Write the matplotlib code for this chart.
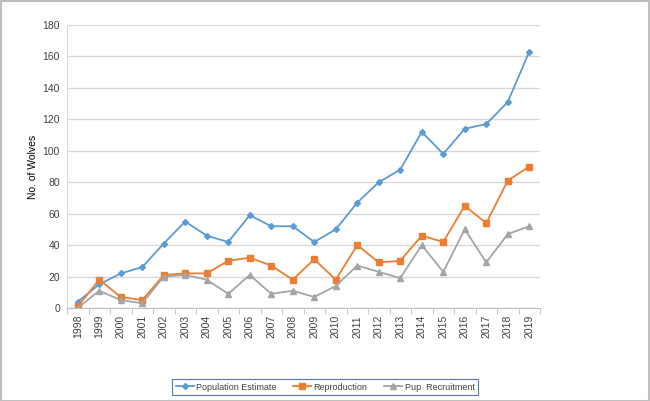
import matplotlib
matplotlib.use("Agg")
import matplotlib.pyplot as plt
from matplotlib.patches import Rectangle
import numpy as np

years = [str(y) for y in range(1998, 2020)]
population = [4, 15, 22, 26, 41, 55, 46, 42, 59, 52, 52, 42, 50, 67, 80, 88, 112, 98, 114, 117, 131, 163]
reproduction = [1, 18, 7, 5, 21, 22, 22, 30, 32, 27, 18, 31, 18, 40, 29, 30, 46, 42, 65, 54, 81, 90]
pups = [0, 11, 5, 3, 20, 21, 18, 9, 21, 9, 11, 7, 14, 27, 23, 19, 40, 23, 50, 29, 47, 52]
yticks = [0, 20, 40, 60, 80, 100, 120, 140, 160, 180]

plt.rcParams['font.family'] = ['Liberation Sans', 'DejaVu Sans']

fig = plt.figure(figsize=(6.5, 4.01), dpi=100)
ax = fig.add_axes([67/650, 1-308/401, (540-67)/650, (308-25)/401])

x = np.arange(len(years))
ax.plot(x, population, color='#5b9bd5', marker='D', markersize=3, linewidth=1.3, label='Population Estimate')
ax.plot(x, reproduction, color='#ed7d31', marker='s', markersize=4, linewidth=1.3, label='Reproduction')
ax.plot(x, pups, color='#a5a5a5', marker='^', markersize=4, linewidth=1.3, label='Pup  Recruitment')

ax.set_xlim(-0.5, len(years) - 0.5)
ax.set_ylim(0, 180)
ax.set_yticks(yticks)
ax.set_xticks(x)
ax.set_xticklabels(years, rotation=90, fontsize=7.5, color='#404040')
ax.tick_params(axis='x', length=0, pad=5)
ax.set_xticks(np.arange(-0.5, len(years), 1), minor=True)
ax.tick_params(axis='x', which='minor', length=4, color='#bfbfbf', direction='out')
ax.tick_params(axis='y', length=0, labelsize=7.5, labelcolor='#404040', pad=5)
ax.grid(axis='y', color='#d9d9d9', linewidth=1)
ax.set_axisbelow(True)
for s in ['top', 'right']:
    ax.spines[s].set_visible(False)
ax.spines['left'].set_color('#d9d9d9')
ax.spines['bottom'].set_color('#bfbfbf')
ax.set_ylabel('No. of Wolves', fontsize=7.5, color='#000000', labelpad=3)

leg = fig.legend(loc='center', bbox_to_anchor=(325/650, 1-387/401), ncol=3, fontsize=6.5,
                 frameon=True, fancybox=False, edgecolor='#2f5597', handlelength=2.0,
                 columnspacing=1.8, borderpad=0.35, handletextpad=0.3, borderaxespad=0)
leg.get_frame().set_linewidth(0.8)
for t in leg.get_texts():
    t.set_color('#404040')

fig.patches.append(Rectangle((0.001, 0.001), 0.997, 0.996, transform=fig.transFigure,
                             fill=False, edgecolor='#bfbfbf', linewidth=1.5))

fig.savefig('out.png', dpi=100)
